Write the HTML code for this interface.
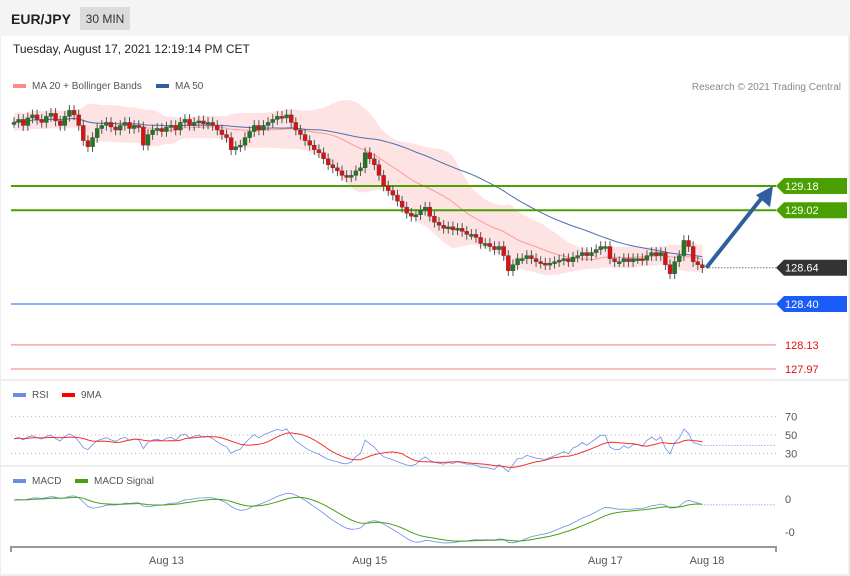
<!DOCTYPE html>
<html><head><meta charset="utf-8"><style>
body{margin:0;background:#f0f0f0;font-family:"Liberation Sans",sans-serif;}
#wrap{position:relative;width:850px;height:576px;background:#fff;overflow:hidden}
svg text{font-family:"Liberation Sans",sans-serif}
</style></head><body>
<div id="wrap">
<svg id="c" width="850" height="576"></svg>
</div>
<script>
const closes=[129.60,129.62,129.58,129.63,129.65,129.62,129.60,129.64,129.66,129.61,129.58,129.64,129.68,129.65,129.58,
129.48,129.44,129.50,129.56,
129.58,129.60,129.57,129.55,129.58,129.60,129.56,129.58,129.57,
129.45,129.52,
129.55,129.56,129.54,129.57,129.58,129.55,129.60,129.62,129.58,129.60,129.61,129.59,129.60,129.58,129.55,129.52,129.50,
129.42,129.44,129.45,129.50,129.54,
129.58,129.55,129.58,129.60,129.62,129.64,129.63,129.65,129.60,
129.55,129.52,129.48,129.45,129.42,129.40,129.36,129.32,129.30,129.28,129.25,129.24,129.25,129.28,129.30,
129.40,129.36,129.32,
129.25,129.18,129.15,129.12,129.08,129.04,129.00,
128.98,128.99,129.02,129.04,128.98,128.94,128.92,128.90,128.91,128.89,
128.90,128.88,128.86,128.86,128.84,128.80,128.80,128.78,128.76,128.78,128.72,
128.62,128.66,128.70,128.70,
128.72,128.70,128.68,128.67,128.66,128.67,128.68,128.69,128.70,128.68,128.71,128.72,
128.74,128.72,128.74,128.76,128.78,128.78,
128.70,128.68,128.68,128.70,128.68,128.70,128.70,128.69,128.72,
128.74,128.72,128.74,128.66,128.60,
128.68,128.72,128.82,128.78,128.68,128.66,128.64];
const levels=[129.18,129.02,128.64,128.40,128.13,127.97];
const levelKinds=['res','res','last','sup','sup2','sup2'];
const rsiTicks=[70,50,30];
const dateLabels=['Aug 13','Aug 15','Aug 17','Aug 18'];
const dateIdx=[33,77,128,150];

const NS='http://www.w3.org/2000/svg',svg=document.getElementById('c');
function el(t,a,p){const e=document.createElementNS(NS,t);for(const k in a)e.setAttribute(k,a[k]);(p||svg).appendChild(e);return e;}
function tx(x,y,s,a){const e=el('text',Object.assign({x:x,y:y},a));e.textContent=s;return e;}
const xI=i=>14+i*4.62;
const yP=p=>304-(p-128.40)*151.3;

let h=el('rect',{x:0,y:0,width:850,height:36,fill:'#f4f4f4'});

let t=tx(11,24,'EUR/JPY',{'font-size':14,'font-weight':'bold',fill:'#222'});

let b=el('rect',{x:80,y:7,width:50,height:23,fill:'#dcdcdc'});

tx(105,23,'30 MIN',{'font-size':12,fill:'#333','text-anchor':'middle'});
t=tx(13,53,'Tuesday, August 17, 2021 12:19:14 PM CET',{'font-size':12,fill:'#222'});

[380,466].forEach(y=>{const l=el('rect',{x:0,y:y-1,width:850,height:2,fill:'#eee'});});
el('rect',{x:0,y:574,width:850,height:2,fill:'#eee'});
el('rect',{x:848,y:36,width:2,height:540,fill:'#eee'});
el('rect',{x:0,y:36,width:1,height:540,fill:'#eee'});
function leg(x,y,c,s,n){const r=el('rect',{x:x,y:y-4,width:13,height:4,fill:c});tx(x+19,y+1,s,{'font-size':10,fill:'#555'});}
leg(13,88,'#f88','MA 20 + Bollinger Bands','legend-ma20');
leg(156,88,'#2d5fa0','MA 50','legend-ma50');
tx(841,90,'Research © 2021 Trading Central',{'font-size':10,fill:'#888','text-anchor':'end'});
leg(13,397,'#6a8de8','RSI','legend-rsi');leg(62,397,'#f00','9MA','legend-rsi-ma');
leg(13,483,'#6a8de8','MACD','legend-macd');leg(75,483,'#48a010','MACD Signal','legend-macd-signal');

const N=closes.length;
function sma(a,n){return a.map((v,i)=>{const s=a.slice(Math.max(0,i-n+1),i+1);return s.reduce((x,y)=>x+y,0)/s.length;});}
function ema(a,n){const k=2/(n+1);let r=[];a.forEach((v,i)=>r.push(i?v*k+r[i-1]*(1-k):v));return r;}
function wilder(a,n,seed){let r=[];a.forEach((v,i)=>r.push(i?(r[i-1]*(n-1)+v)/n:seed));return r;}
const ma20=sma(closes,20),ma50=sma(closes,50);
const sd=closes.map((v,i)=>{const s=closes.slice(Math.max(0,i-19),i+1);const m=ma20[i];return Math.sqrt(s.reduce((x,y)=>x+(y-m)*(y-m),0)/s.length);});
const up=ma20.map((m,i)=>m+2*Math.max(sd[i],0.03)),dn=ma20.map((m,i)=>m-2*Math.max(sd[i],0.03));
let bp='M'+up.map((v,i)=>xI(i)+','+yP(v)).join('L')+'L'+dn.map((v,i)=>xI(i)+','+yP(v)).reverse().join('L')+'Z';
let e=el('path',{d:bp,fill:'#fde3e3',stroke:'none'});
const line=(a,f,c,w,n)=>{const p=el('path',{d:'M'+a.map((v,i)=>xI(i).toFixed(1)+','+f(v).toFixed(1)).join('L'),fill:'none',stroke:c,'stroke-width':w});return p;};
line(ma20,yP,'#f99',1,'ma20-line');
line(ma50,yP,'#4a70b0',1,'ma50-line');

const lc={res:'#4aa000',last:'#333',sup:'#1a5cf5',sup2:'#f4a8a8'};
levels.forEach((p,i)=>{const k=levelKinds[i],y=yP(p);
 if(k!=='last'){const l=el('line',{x1:11,x2:776,y1:y,y2:y,stroke:k==='sup'?'#6a95f0':lc[k],'stroke-width':k==='res'?2:1.5});}
 if(k==='sup2'){tx(785,y+4,p.toFixed(2),{'font-size':11,fill:'#e01010'});}
 else{const g=el('polygon',{points:`776,${y} 784,${y-8} 847,${y-8} 847,${y+8} 784,${y+8}`,fill:lc[k]});tx(785,y+4,p.toFixed(2),{'font-size':11,fill:'#fff'});}
});
closes.forEach((c,i)=>{const o=i?closes[i-1]:c;const hi=Math.max(o,c)+0.035,lo=Math.min(o,c)-0.035,x=xI(i);
 const w=el('line',{x1:x,x2:x,y1:yP(hi),y2:yP(lo),stroke:'#555','stroke-width':1});
 const top=yP(Math.max(o,c)),hh=Math.max(2,Math.abs(yP(o)-yP(c)));
 const r=el('rect',{x:x-2,y:top,width:4,height:hh,fill:c>=o?'#1e7a1e':'#e01010',stroke:'#444','stroke-width':0.4});});
const ly=yP(closes[N-1]);
el('line',{x1:xI(N-1)+4,x2:776,y1:ly,y2:ly,stroke:'#333','stroke-dasharray':'1,2'});
let a=el('line',{x1:xI(N-1)+4,y1:ly,x2:764,y2:yP(129.12),stroke:'#2f5f9f','stroke-width':4});
el('polygon',{points:`773,${yP(129.18)} 756,${yP(129.12)} 770,${yP(129.04)}`,fill:'#2f5f9f'});

let gs=[],ls=[];closes.forEach((c,i)=>{const d=i?c-closes[i-1]:0;gs.push(Math.max(d,0));ls.push(Math.max(-d,0));});
const ag=wilder(gs,14,0.03),al=wilder(ls,14,0.03);
const rsi=ag.map((g,i)=>{const l=al[i];const raw=l+g===0?50:100*g/(g+l);return 46+(raw-50)*1.0;});
const rsiMa=sma(rsi,9);
const yR=v=>435-(v-50)*0.92;
rsiTicks.forEach(v=>{el('line',{x1:11,x2:776,y1:yR(v),y2:yR(v),stroke:'#bbb','stroke-dasharray':'1,3'});tx(785,yR(v)+4,String(v),{'font-size':11,fill:'#555'});});
line(rsi,yR,'#6a8de8',0.8,'rsi-line');line(rsiMa,yR,'#f03030',1,'rsi-ma-line');
el('line',{x1:xI(N-1)+2,x2:776,y1:yR(rsi[N-1]),y2:yR(rsi[N-1]),stroke:'#6a8de8','stroke-dasharray':'1,2'});
const e12=ema(closes,12),e26=ema(closes,26);
const macd=e12.map((v,i)=>v-e26[i]),sig=ema(macd,9);
const mn=Math.min(...macd,...sig);
const yM=v=>500-v*(43/-mn);
tx(785,503,'0',{'font-size':11,fill:'#555'});tx(785,536,'-0',{'font-size':11,fill:'#555'});
line(macd,yM,'#6a8de8',0.8,'macd-line');line(sig,yM,'#48a010',1,'macd-signal-line');
el('line',{x1:xI(N-1)+2,x2:776,y1:yM(macd[N-1]),y2:yM(macd[N-1]),stroke:'#6a8de8','stroke-dasharray':'1,2'});
let ax=el('path',{d:'M11,552V547H776V552',fill:'none',stroke:'#999','stroke-width':2});
dateLabels.forEach((s,i)=>{const l=tx(xI(dateIdx[i]),564,s,{'font-size':11,fill:'#555','text-anchor':'middle'});});
</script>
</body></html>
